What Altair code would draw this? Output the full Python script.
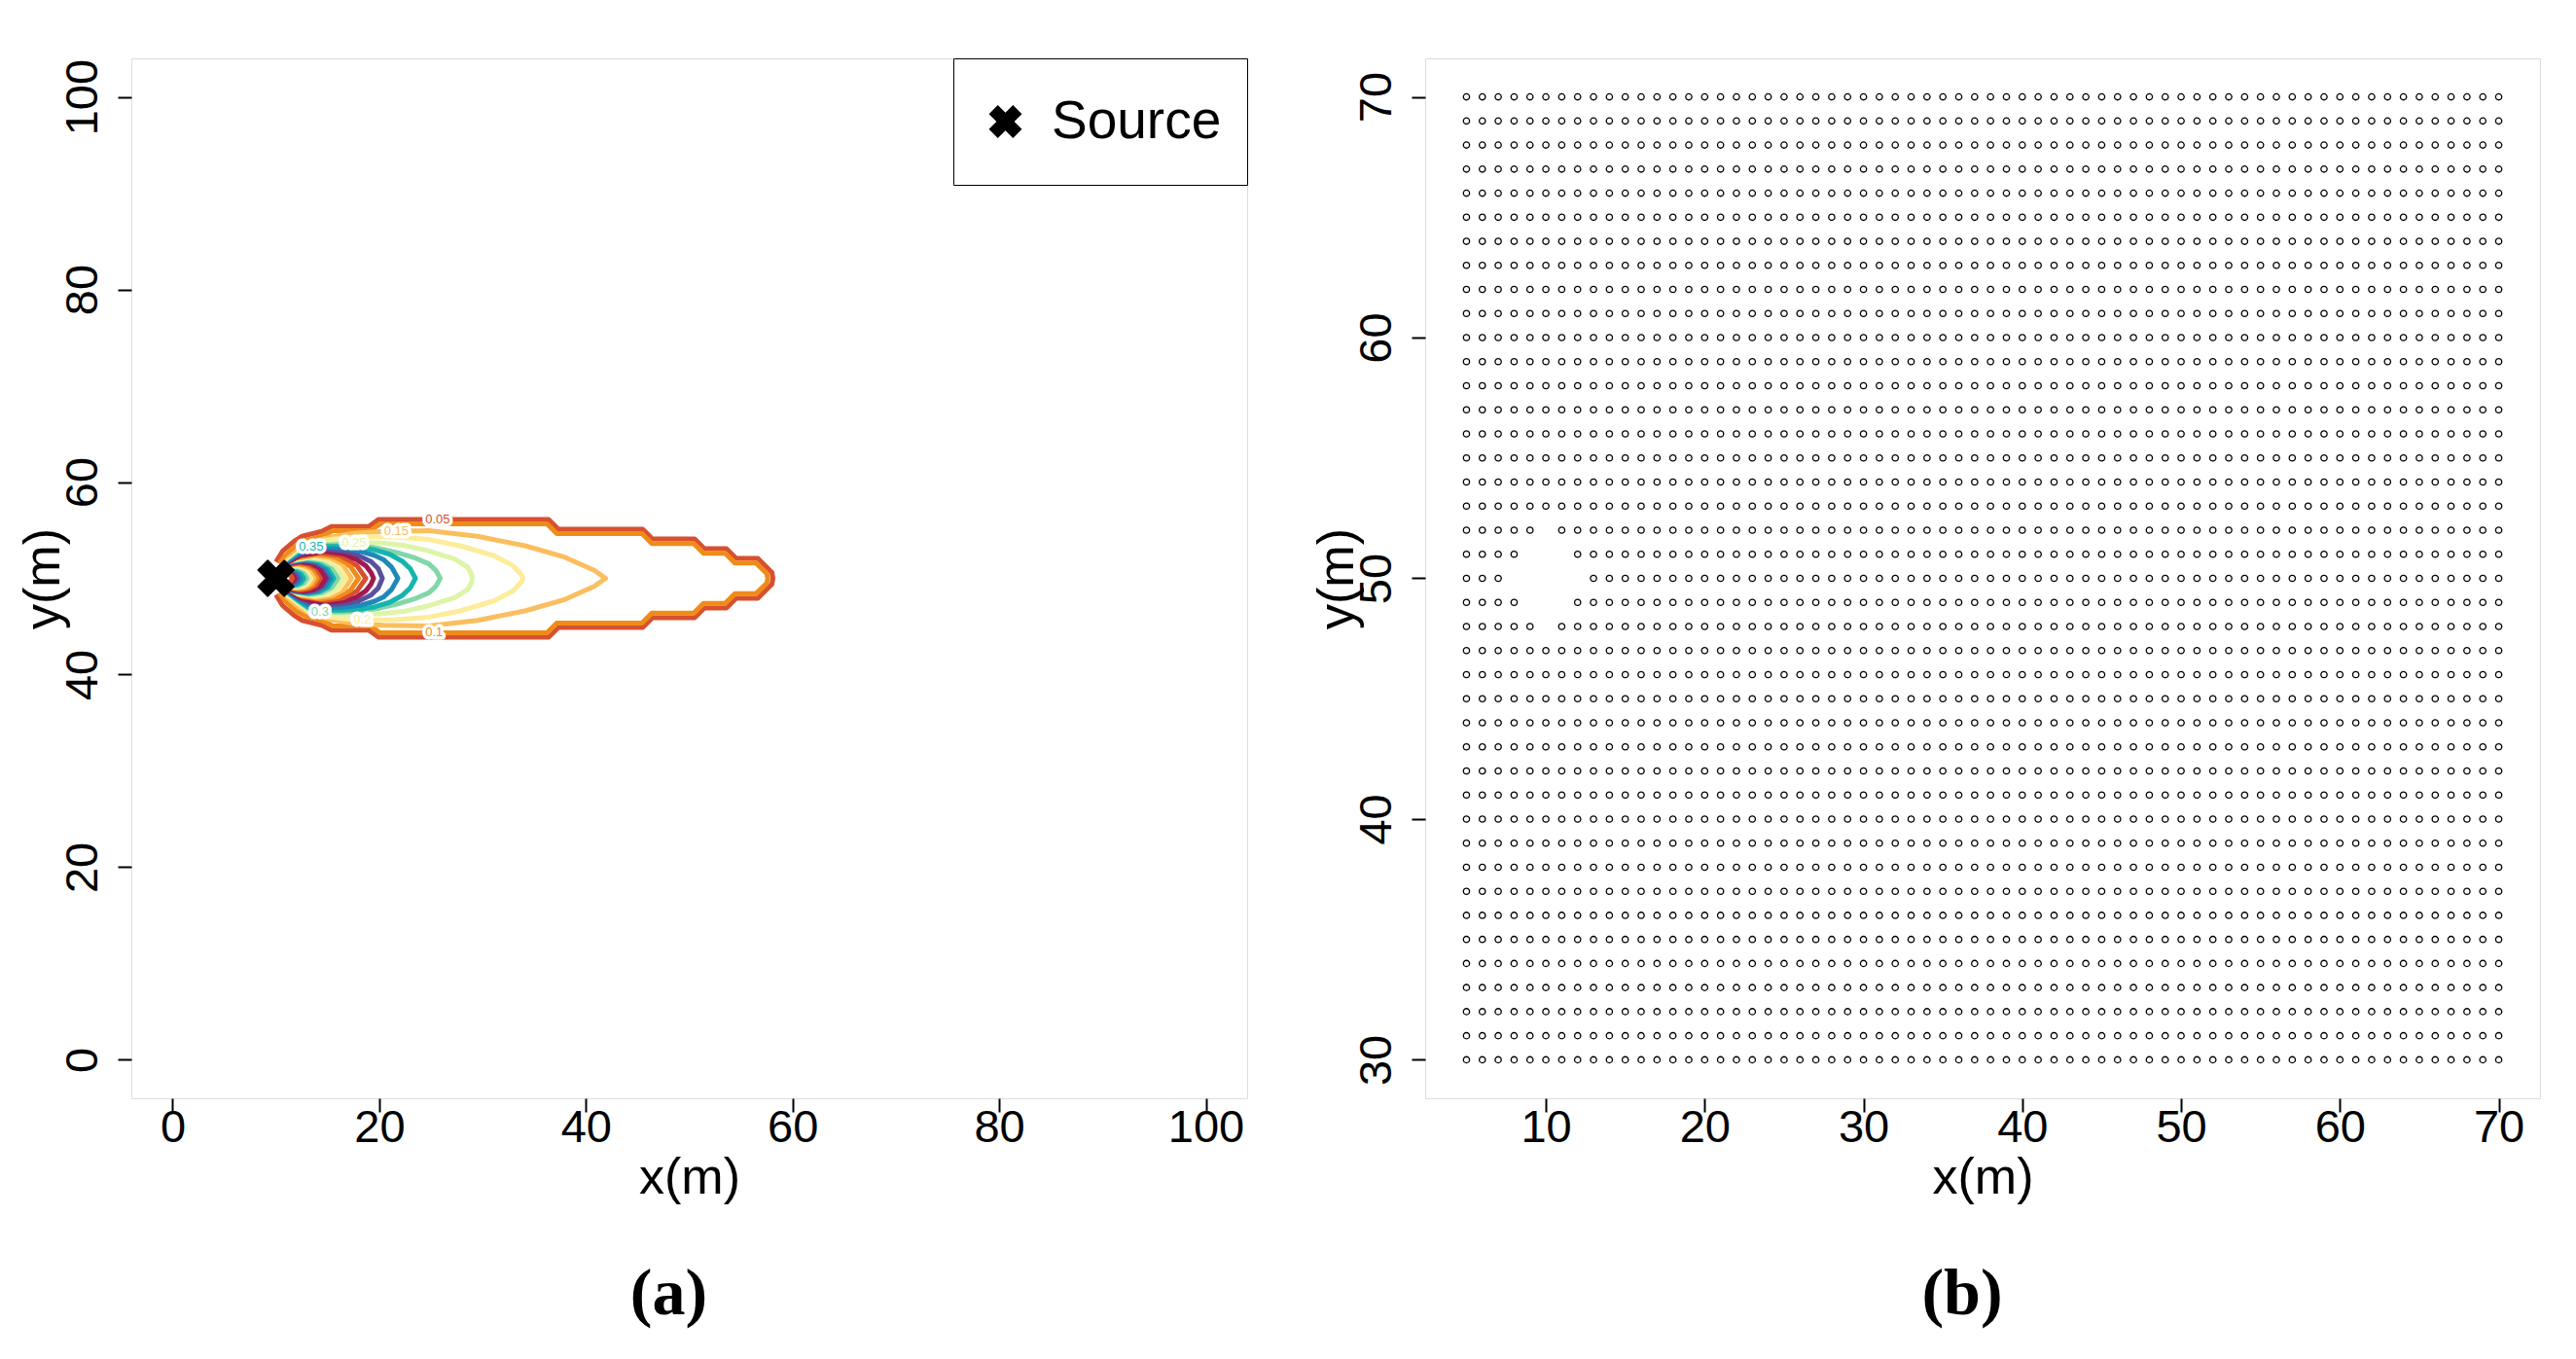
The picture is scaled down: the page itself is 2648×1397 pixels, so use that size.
import altair as alt
import pandas as pd

# ---------------- data: panel (a) ----------------
SOURCE_X = 10
SOURCE_Y = 50

LEVELS = [0.05, 0.1, 0.15, 0.2, 0.25, 0.3, 0.35, 0.4, 0.45, 0.5,
          0.55, 0.6, 0.65, 0.7, 0.75, 0.8, 0.85, 0.9, 0.95, 1.0,
          1.1, 1.2, 1.3, 1.4, 1.5, 1.6, 1.8, 2.0, 2.3, 2.6, 3.0]

PALETTE = ["#D7502F", "#EF8C19", "#FBBE5F", "#FDEC9A", "#DEF4A8",
           "#82D7A8", "#16B4AF", "#1E89B9", "#5A50A0", "#A01950"]

# upper half of every contour (x, y), from the source side to the tip
CONTOUR_X = [
    [10.0, 10.66, 11.76, 12.54, 14.43, 15.37, 18.98, 19.92, 36.39, 37.34, 45.5, 46.44, 50.52, 51.46, 53.6, 54.54, 56.64, 58.0, 58.1],
    [10.3, 10.97, 11.91, 12.86, 14.58, 15.52, 19.13, 20.07, 36.24, 37.18, 45.43, 46.38, 50.46, 51.4, 53.5, 54.44, 56.48, 57.5, 57.6],
    [10.5, 11.3, 12.2, 13.5, 15.4, 17.3, 20.4, 24.8, 29.5, 34.2, 38.0, 40.8, 41.9],
    [10.5, 11.3, 12.4, 13.4, 15.0, 16.5, 18.35, 21.5, 24.8, 27.9, 31.1, 32.9, 33.75, 33.9],
    [10.5, 11.3, 12.4, 13.4, 15.0, 17.55, 20.0, 22.5, 24.8, 27.3, 28.55, 28.95, 29.0],
    [10.5, 11.3, 12.3, 13.3, 14.25, 16.0, 18.0, 20.0, 22.0, 23.5, 24.8, 25.5, 25.9],
    [10.5, 11.3, 12.3, 13.4, 15.0, 16.5, 18.2, 19.6, 21.0, 22.2, 23.0, 23.5],
    [10.5, 11.3, 12.3, 13.4, 15.0, 16.5, 18.2, 19.5, 20.4, 21.2, 21.8],
    [10.5, 11.3, 12.3, 13.4, 15.0, 16.5, 18.0, 19.2, 19.9, 20.3],
    [10.5, 11.3, 12.3, 13.4, 15.0, 16.5, 17.8, 18.7, 19.2, 19.45],
    [10.22, 11.04, 12.61, 14.79, 16.53, 17.83, 18.7],
    [10.2, 10.96, 12.4, 14.4, 16.0, 17.2, 18.0],
    [10.18, 10.88, 12.19, 14.02, 15.48, 16.57, 17.3],
    [10.17, 10.82, 12.04, 13.74, 15.1, 16.12, 16.8],
    [10.16, 10.77, 11.92, 13.52, 14.8, 15.76, 16.4],
    [10.15, 10.72, 11.8, 13.3, 14.5, 15.4, 16.0],
    [10.14, 10.67, 11.68, 13.08, 14.2, 15.04, 15.6],
    [10.13, 10.64, 11.59, 12.92, 13.98, 14.77, 15.3],
    [10.13, 10.6, 11.5, 12.75, 13.75, 14.5, 15.0],
    [10.12, 10.58, 11.44, 12.64, 13.6, 14.32, 14.8],
    [10.11, 10.52, 11.29, 12.37, 13.23, 13.87, 14.3],
    [10.1, 10.48, 11.2, 12.2, 13.0, 13.6, 14.0],
    [10.09, 10.44, 11.11, 12.04, 12.78, 13.33, 13.7],
    [10.09, 10.41, 11.02, 11.87, 12.55, 13.06, 13.4],
    [10.08, 10.38, 10.96, 11.76, 12.4, 12.88, 13.2],
    [10.08, 10.36, 10.9, 11.65, 12.25, 12.7, 13.0],
    [10.07, 10.32, 10.81, 11.49, 12.03, 12.43, 12.7],
    [10.06, 10.29, 10.72, 11.32, 11.8, 12.16, 12.4],
    [10.05, 10.25, 10.63, 11.16, 11.58, 11.89, 12.1],
    [10.05, 10.22, 10.56, 11.02, 11.39, 11.67, 11.85],
    [10.04, 10.19, 10.48, 10.88, 11.2, 11.44, 11.6],
]
CONTOUR_Y = [
    [51.7, 52.85, 53.86, 54.37, 54.87, 55.38, 55.38, 56.12, 56.12, 55.11, 55.11, 54.1, 54.1, 53.09, 53.09, 52.08, 52.08, 50.6, 50.0],
    [51.5, 52.42, 53.36, 53.93, 54.44, 54.94, 54.94, 55.65, 55.65, 54.64, 54.64, 53.6, 53.6, 52.59, 52.59, 51.58, 51.58, 50.5, 50.0],
    [51.34, 52.18, 53.0, 53.8, 54.3, 54.64, 54.87, 54.94, 54.37, 53.36, 52.18, 50.84, 50.0],
    [51.1, 51.9, 52.8, 53.6, 54.0, 54.2, 54.32, 54.3, 54.03, 53.36, 52.35, 51.34, 50.4, 50.0],
    [50.95, 51.75, 52.65, 53.45, 53.68, 53.75, 53.7, 53.4, 52.85, 52.0, 51.17, 50.4, 50.0],
    [50.9, 51.65, 52.5, 53.25, 53.44, 53.5, 53.4, 53.1, 52.6, 52.1, 51.5, 50.8, 50.0],
    [50.85, 51.6, 52.4, 53.2, 53.3, 53.3, 53.2, 52.95, 52.5, 51.8, 51.0, 50.0],
    [50.8, 51.5, 52.25, 52.9, 53.05, 53.0, 52.8, 52.4, 51.95, 51.15, 50.0],
    [50.75, 51.4, 52.1, 52.6, 52.75, 52.65, 52.35, 51.75, 51.0, 50.0],
    [50.7, 51.3, 51.95, 52.35, 52.5, 52.35, 51.95, 51.3, 50.6, 50.0],
    [50.28, 50.97, 51.93, 52.3, 52.02, 51.33, 50.0],
    [50.26, 50.9, 51.81, 52.15, 51.89, 51.25, 50.0],
    [50.24, 50.84, 51.68, 52.0, 51.76, 51.16, 50.0],
    [50.23, 50.79, 51.58, 51.88, 51.65, 51.09, 50.0],
    [50.21, 50.75, 51.5, 51.78, 51.57, 51.03, 50.0],
    [50.2, 50.71, 51.41, 51.68, 51.48, 50.97, 50.0],
    [50.19, 50.66, 51.33, 51.58, 51.39, 50.92, 50.0],
    [50.18, 50.63, 51.26, 51.5, 51.32, 50.87, 50.0],
    [50.17, 50.6, 51.19, 51.42, 51.25, 50.82, 50.0],
    [50.16, 50.57, 51.13, 51.35, 51.19, 50.78, 50.0],
    [50.15, 50.51, 51.02, 51.22, 51.07, 50.71, 50.0],
    [50.13, 50.47, 50.94, 51.12, 50.99, 50.65, 50.0],
    [50.12, 50.43, 50.86, 51.02, 50.9, 50.59, 50.0],
    [50.11, 50.39, 50.79, 50.94, 50.83, 50.55, 50.0],
    [50.11, 50.37, 50.74, 50.88, 50.77, 50.51, 50.0],
    [50.1, 50.34, 50.69, 50.82, 50.72, 50.48, 50.0],
    [50.09, 50.31, 50.62, 50.74, 50.65, 50.43, 50.0],
    [50.08, 50.28, 50.55, 50.66, 50.58, 50.38, 50.0],
    [50.07, 50.24, 50.49, 50.58, 50.51, 50.34, 50.0],
    [50.06, 50.22, 50.44, 50.52, 50.46, 50.3, 50.0],
    [50.06, 50.19, 50.39, 50.46, 50.4, 50.27, 50.0],
]

LABEL_TEXT = ["0.05", "0.1", "0.15", "0.2", "0.25", "0.3", "0.35"]
LABEL_X = [25.65, 25.3, 21.65, 18.35, 17.55, 14.25, 13.4]
LABEL_Y = [56.12, 44.35, 54.87, 45.68, 53.72, 46.56, 53.3]

SOURCE_NAME = ["Source"]

# ---------------- data: panel (b) ----------------
GRID_X = list(range(5, 71))
GRID_Y = list(range(30, 71))
GAP_X = [10, 9, 10, 11, 8, 9, 10, 11, 12, 9, 10, 11, 10]
GAP_Y = [48, 49, 49, 49, 50, 50, 50, 50, 50, 51, 51, 51, 52]

A_X_TICKS = [0, 20, 40, 60, 80, 100]
A_Y_TICKS = [0, 20, 40, 60, 80, 100]
B_X_TICKS = [10, 20, 30, 40, 50, 60, 70]
B_Y_TICKS = [30, 40, 50, 60, 70]

# ---------------- tables ----------------
rows = []
for i, (lev, xs, ys) in enumerate(zip(LEVELS, CONTOUR_X, CONTOUR_Y)):
    col = PALETTE[i % len(PALETTE)]
    upper = list(zip(xs, ys))
    lower = [(x, 2 * SOURCE_Y - y) for x, y in reversed(upper[:-1])]
    for k, (x, y) in enumerate(upper + lower):
        rows.append({"idx": i, "level": lev, "col": col, "k": k, "x": x, "y": y})
contours = pd.DataFrame(rows)

labels = pd.DataFrame({
    "text": LABEL_TEXT, "x": LABEL_X, "y": LABEL_Y,
    "col": [PALETTE[i % len(PALETTE)] for i in range(len(LABEL_TEXT))],
})
source = pd.DataFrame({"x": [SOURCE_X], "y": [SOURCE_Y], "name": SOURCE_NAME})

gap = set(zip(GAP_X, GAP_Y))
grid = pd.DataFrame([{"x": gx, "y": gy} for gy in GRID_Y for gx in GRID_X if (gx, gy) not in gap])

# ---------------- styling ----------------
W, H = 1147, 1069
WB = 1146
TICK_FONT = 47
TITLE_FONT = 52
XPATH = "M-1,-0.46L-0.46,-1L0,-0.54L0.46,-1L1,-0.46L0.54,0L1,0.46L0.46,1L0,0.54L-0.46,1L-1,0.46L-0.54,0Z"


def x_axis(vals, width):
    return alt.Axis(values=vals, title="x(m)", grid=False, domain=False,
                    tickSize=14, tickWidth=2, tickColor="black",
                    labelFontSize=TICK_FONT, labelColor="black", labelPadding=-7,
                    labelFlush=False, labelOverlap=False,
                    titleFontSize=TITLE_FONT, titleFontWeight="normal", titleColor="black",
                    titleX=width / 2, titleY=81, titleAlign="center", titleBaseline="middle")


def y_axis(vals):
    return alt.Axis(values=vals, title="y(m)", grid=False, domain=False,
                    tickSize=14, tickWidth=2, tickColor="black",
                    labelFontSize=TICK_FONT, labelColor="black", labelAngle=270,
                    labelAlign="center", labelBaseline="middle", labelPadding=36,
                    labelFlush=False, labelOverlap=False,
                    titleFontSize=TITLE_FONT, titleFontWeight="normal", titleColor="black",
                    titleAngle=270, titleX=-91, titleY=H / 2, titleAlign="center",
                    titleBaseline="middle")


xa = alt.Scale(domain=[-4, 104], nice=False, zero=False)
ya = alt.Scale(domain=[-4, 104], nice=False, zero=False)

lines = alt.Chart(contours).mark_line(strokeWidth=5, strokeJoin="round").encode(
    x=alt.X("x:Q", scale=xa, axis=x_axis(A_X_TICKS, W)),
    y=alt.Y("y:Q", scale=ya, axis=y_axis(A_Y_TICKS)),
    color=alt.Color("col:N", scale=None, legend=None),
    detail="idx:N",
    order="k:Q",
)

halo = alt.Chart(labels).mark_text(fontSize=13, font="Liberation Sans", stroke="white",
                                   strokeWidth=7, fill="white", strokeJoin="round").encode(
    x="x:Q", y="y:Q", text="text:N")
ltext = alt.Chart(labels).mark_text(fontSize=13, font="Liberation Sans").encode(
    x="x:Q", y="y:Q", text="text:N",
    color=alt.Color("col:N", scale=None, legend=None))

src = alt.Chart(source).mark_point(filled=True, size=1370, opacity=1, color="black",
                                   stroke="black", strokeWidth=1.5, strokeJoin="round").encode(
    x="x:Q", y="y:Q",
    shape=alt.Shape("name:N", scale=alt.Scale(domain=SOURCE_NAME, range=[XPATH]),
                    legend=alt.Legend(title=None, orient="top-right", offset=0, padding=26,
                                      clipHeight=78,
                                      strokeColor="black", fillColor="white",
                                      labelFontSize=55, labelFont="Liberation Sans",
                                      labelColor="black", labelOffset=20, labelLimit=0,
                                      symbolSize=1150, symbolFillColor="black",
                                      symbolStrokeColor="black", symbolStrokeWidth=1,
                                      symbolOpacity=1, labelBaseline="middle")),
)

panel_a = alt.layer(lines, halo, ltext, src).properties(
    width=W, height=H,
    title=alt.TitleParams("(a)", orient="bottom", anchor="middle", frame="group",
                          font="Liberation Serif", fontSize=68, fontWeight="bold",
                          color="black", offset=61, dx=-21),
)

xb = alt.Scale(domain=[2.4, 72.6], nice=False, zero=False)
yb = alt.Scale(domain=[28.4, 71.6], nice=False, zero=False)

panel_b = alt.Chart(grid).mark_point(shape="circle", size=40, filled=False, color="black",
                                     strokeWidth=1.3, opacity=1).encode(
    x=alt.X("x:Q", scale=xb, axis=x_axis(B_X_TICKS, WB)),
    y=alt.Y("y:Q", scale=yb, axis=y_axis(B_Y_TICKS)),
).properties(
    width=WB, height=H,
    title=alt.TitleParams("(b)", orient="bottom", anchor="middle", frame="group",
                          font="Liberation Serif", fontSize=68, fontWeight="bold",
                          color="black", offset=61, dx=-21),
)

chart = alt.hconcat(panel_a, panel_b, spacing=64).resolve_legend(
    shape="independent"
).properties(
    padding={"left": 9, "top": 51, "right": 10, "bottom": 5},
).configure_view(stroke="black", strokeWidth=2, strokeOpacity=1).configure(font="Liberation Sans")

chart.save("out.html", embed_options={"renderer": "svg", "actions": False})
